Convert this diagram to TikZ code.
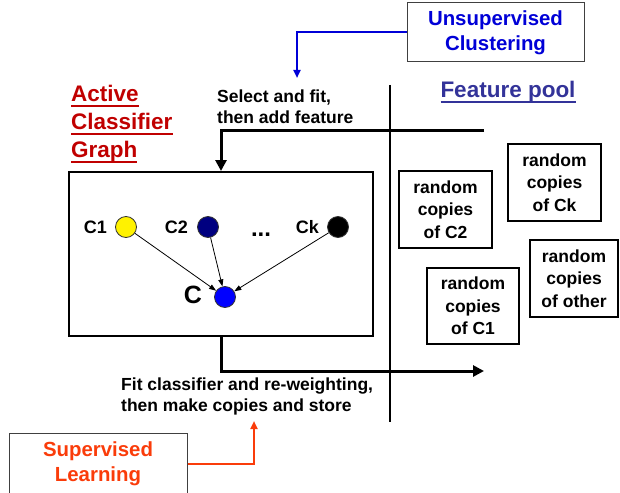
\documentclass[tikz,border=0pt]{standalone}
\usepackage{fontspec}
\setmainfont{Liberation Sans}
\usetikzlibrary{arrows.meta}
\definecolor{acgred}{RGB}{192,0,0}
\definecolor{poolblue}{RGB}{51,51,153}
\definecolor{unsupblue}{RGB}{0,0,215}
\definecolor{suporange}{RGB}{250,60,10}
\definecolor{cnavy}{RGB}{0,0,128}
\definecolor{cblue}{RGB}{0,0,255}
\definecolor{boxgray}{RGB}{64,64,64}
\newcommand\ulthick[1]{\leavevmode\setbox0=\hbox{#1}\dp0=0pt\vtop{\copy0\kern3pt\hrule height1.8pt}}
\tikzset{
  steptext/.style={font=\bfseries\fontsize{17.5}{21}\selectfont, inner sep=0pt, align=left},
  titletext/.style={font=\bfseries\fontsize{22.5}{28}\selectfont, inner sep=0pt, align=left},
  poolbox/.style={draw, line width=2pt, font=\bfseries\fontsize{17.5}{22.5}\selectfont, align=center, inner sep=0pt},
  notebox/.style={draw=boxgray, line width=1pt, font=\bfseries\fontsize{20.4}{25}\selectfont, align=center, inner sep=0pt},
  cdot/.style={circle, draw=black!80, line width=0.8pt, minimum size=21pt, inner sep=0pt},
  clab/.style={font=\bfseries\fontsize{18}{20}\selectfont, inner sep=0pt},
  linkarr/.style={arrows={-Triangle[length=7pt,width=5pt]}, line width=0.8pt},
  mainflow/.style={line width=3pt, -{Triangle[length=11pt,width=11pt]}},
  noteflow/.style={line width=2pt, -{Triangle[length=8pt,width=7pt]}},
}
\begin{document}
\begin{tikzpicture}[x=1pt,y=-1pt]
\useasboundingbox (0,0) rectangle (620,492);

% titles
\node[titletext, text=acgred, anchor=west] (acg) at (71,124) {\ulthick{Active}\\\ulthick{Classifier}\\\ulthick{Graph}};
\node[titletext, text=poolblue] (pool) at (508,92) {\ulthick{Feature pool}};

% annotation boxes
\node[notebox, text=unsupblue, minimum width=177pt, minimum height=59pt] (unsup) at (495.5,32.5) {Unsupervised\\Clustering};
\node[notebox, text=suporange, minimum width=178pt, minimum height=62pt] (sup) at (98,464) {Supervised\\Learning};

% step texts
\node[steptext, anchor=west] (select) at (217,107) {Select and fit,\\then add feature};
\node[steptext, anchor=west] (fit) at (121,396) {Fit classifier and re-weighting,\\then make copies and store};

% main graph box
\node[draw, line width=2pt, minimum width=304pt, minimum height=164pt, inner sep=0pt] (graph) at (221,254) {};

% classifier nodes
\node[cdot, fill=yellow] (c1) at (126,227) {};
\node[cdot, fill=cnavy] (c2) at (208,227) {};
\node[cdot, fill=black] (ck) at (338,227) {};
\node[cdot, fill=cblue] (c) at (225,297) {};
\node[clab, anchor=east] (l1) at ([xshift=-8pt]c1.west) {C1};
\node[clab, anchor=east] (l2) at ([xshift=-9pt]c2.west) {C2};
\node[clab, anchor=east] (lk) at ([xshift=-8pt]ck.west) {Ck};
\node[font=\bfseries\fontsize{25}{27}\selectfont, inner sep=0pt, anchor=east] (lc) at ([xshift=-12pt,yshift=2pt]c.west) {C};
\node[font=\bfseries\fontsize{24}{26}\selectfont, inner sep=0pt, anchor=base] (dots) at (261,236) {...};
\draw[linkarr] (c1) -- (c);
\draw[linkarr] (c2) -- (c);
\draw[linkarr] (ck) -- (c);

% feature pool boxes
\node[poolbox, minimum width=93pt, minimum height=77pt] (p2) at (445.5,209.5) {random\\copies\\of C2};
\node[poolbox, minimum width=93pt, minimum height=77pt] (pk) at (554.5,182.5) {random\\copies\\of Ck};
\node[poolbox, minimum width=92pt, minimum height=76pt] (p1) at (473,306) {random\\copies\\of C1};
\node[poolbox, minimum width=88pt, minimum height=77pt] (po) at (574,278.5) {random\\copies\\of other};

% divider
\coordinate (divtop) at (390,85);
\coordinate (divbot) at (390,422);
\draw[line width=2pt] (divtop) -- (divbot);

% flows
\coordinate (instart) at (484,130);
\coordinate (outend) at (484,371);
\draw[mainflow] (instart) -| (graph.north);
\draw[mainflow] (graph.south) |- (outend);

% annotation arrows
\coordinate (unsuptip) at (297,78);
\coordinate (suptip) at (254,421);
\draw[noteflow, draw=unsupblue] (unsup.west) -| (unsuptip);
\draw[noteflow, draw=suporange] (sup.east) -| (suptip);
\end{tikzpicture}
\end{document}
